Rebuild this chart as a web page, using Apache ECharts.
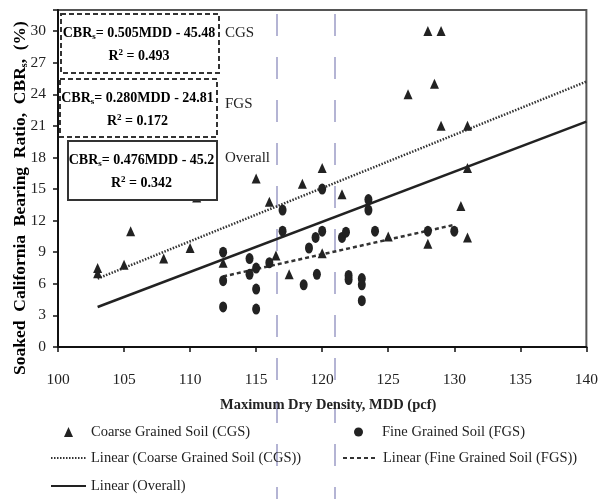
<!DOCTYPE html>
<html>
<head>
<meta charset="utf-8">
<script src="https://cdn.jsdelivr.net/npm/echarts@6/dist/echarts.min.js"></script>
<style>
  html, body { margin: 0; padding: 0; background: #fff; }
  #main { width: 601px; height: 499px; }
</style>
</head>
<body>
<div id="main"></div>
<script>
// 粗粒土 CGS (三角)
var cgsMDD = [103, 103, 105, 105.5, 108, 110, 110.5, 112.5, 115, 116, 116.5, 117.5, 118.5, 120, 120, 121.5, 125, 126.5, 128, 128, 128.5, 129, 129, 130.5, 131, 131, 131];
var cgsCBR = [7.5, 7.0, 7.8, 11, 8.4, 9.4, 14.2, 8.0, 16, 13.8, 8.7, 6.9, 15.5, 17, 8.9, 14.5, 10.5, 24, 30, 9.8, 25, 30, 21, 13.4, 21, 17, 10.4];
// 细粒土 FGS (圆点)
var fgsMDD = [112.5, 112.5, 112.5, 114.5, 114.5, 115, 115, 115, 116, 117, 117, 118.6, 119, 119.5, 119.6, 120, 120, 121.5, 121.8, 122, 122, 123, 123, 123, 123.5, 123.5, 124, 128, 130];
var fgsCBR = [9.0, 6.3, 3.8, 8.4, 6.9, 7.5, 5.5, 3.6, 8.0, 13.0, 11.0, 5.9, 9.4, 10.4, 6.9, 15.0, 11.0, 10.4, 10.9, 6.8, 6.4, 6.5, 5.9, 4.4, 14.0, 13.0, 11.0, 11.0, 11.0];
// 趋势线端点
var cgsTrendMDD = [103, 140];
var cgsTrendCBR = [6.5, 25.2];
var fgsTrendMDD = [112.5, 130];
var fgsTrendCBR = [6.7, 11.6];
var allTrendMDD = [103, 140];
var allTrendCBR = [3.8, 21.4];

var names = [
  'Coarse Grained Soil (CGS)',
  'Fine Grained Soil (FGS)',
  'Linear (Coarse Grained Soil (CGS))',
  'Linear (Fine Grained Soil (FGS))',
  'Linear (Overall)'
];
var eqs = [
  { lab: 'CGS', a: '= 0.505MDD - 45.48', r: ' = 0.493' },
  { lab: 'FGS', a: '= 0.280MDD - 24.81', r: ' = 0.172' },
  { lab: 'Overall', a: '= 0.476MDD - 45.2', r: ' = 0.342' }
];

function pairs(xs, ys) {
  return xs.map(function (x, i) { return [x, ys[i]]; });
}

var serif = 'Liberation Serif';
var ink = '#222';

(function () {
  var myChart = echarts.init(document.getElementById('main'));

  var rich = {
    b: { fontFamily: serif, fontWeight: 'bold', fontSize: 14, color: ink },
    s: { fontFamily: serif, fontWeight: 'bold', fontSize: 9, color: ink, padding: [8, 0, 0, 0] },
    p: { fontFamily: serif, fontWeight: 'bold', fontSize: 9, color: ink, padding: [0, 0, 7, 0] }
  };

  // 公式框
  var boxes = [
    { x: 60, y: 13, w: 158, h: 59, dash: [5, 3] },
    { x: 59, y: 78, w: 157, h: 58, dash: [5, 3] },
    { x: 67, y: 140, w: 149, h: 59, dash: null }
  ];
  var graphics = [];
  boxes.forEach(function (b, i) {
    graphics.push({
      type: 'rect', left: b.x, top: b.y, z: 10,
      shape: { width: b.w, height: b.h },
      style: { fill: '#fff', stroke: '#333', lineWidth: 2, lineDash: b.dash }
    });
    graphics.push({
      type: 'text', x: b.x + b.w / 2, y: b.y + 20, z: 11,
      style: { text: '{b|CBR}{s|s}{b|' + eqs[i].a + '}', rich: rich, align: 'center', verticalAlign: 'middle' }
    });
    graphics.push({
      type: 'text', x: b.x + b.w / 2, y: b.y + 43, z: 11,
      style: { text: '{b|R}{p|2}{b|' + eqs[i].r + '}', rich: rich, align: 'center', verticalAlign: 'middle' }
    });
    graphics.push({
      type: 'text', x: 225, y: [33, 104, 158][i], z: 11,
      style: { text: eqs[i].lab, font: '15px "Liberation Serif"', fill: ink, align: 'left', verticalAlign: 'middle' }
    });
  });

  // 页面上的虚线辅助线
  [277, 335].forEach(function (x) {
    graphics.push({
      type: 'line', z: 0,
      shape: { x1: x, y1: -29, x2: x, y2: 520 },
      style: { stroke: '#9c9cc6', lineWidth: 1.5, lineDash: [22, 21] }
    });
  });

  // y 轴标题
  graphics.push({
    type: 'text', x: 20, y: 198, rotation: Math.PI / 2, z: 5,
    style: {
      text: '{t|Soaked  California  Bearing  Ratio,  CBR}{s|s}{t|,  (%)}',
      rich: {
        t: { fontFamily: serif, fontWeight: 'bold', fontSize: 17.5, color: ink },
        s: { fontFamily: serif, fontWeight: 'bold', fontSize: 10, color: ink, padding: [8, 0, 0, 0] }
      },
      align: 'center', verticalAlign: 'middle'
    }
  });

  var legendText = { fontFamily: serif, fontSize: 14.5, color: ink, lineHeight: 18 };
  var hideDot = { opacity: 0 };

  var option = {
    animation: false,
    backgroundColor: '#fff',
    grid: {
      left: 58, right: 11, top: 10, bottom: 152,
      show: true, borderColor: '#555', borderWidth: 2
    },
    xAxis: {
      type: 'value',
      min: 100, max: 140, interval: 5,
      name: 'Maximum Dry Density, MDD (pcf)',
      nameLocation: 'middle',
      nameGap: 51,
      nameTextStyle: { fontFamily: serif, fontWeight: 'bold', fontSize: 14.5, color: ink, padding: [0, 0, 0, 12] },
      axisLine: { lineStyle: { color: '#111', width: 2 } },
      axisTick: { show: true, inside: false, length: 5, lineStyle: { color: '#111', width: 1.5 } },
      axisLabel: { fontFamily: serif, fontSize: 15.5, color: ink, margin: 25 },
      splitLine: { show: false }
    },
    yAxis: {
      type: 'value',
      min: 0, max: 32, interval: 3,
      axisLine: { show: true, lineStyle: { color: '#111', width: 2 } },
      axisTick: { show: true, inside: false, length: 5, lineStyle: { color: '#111', width: 1.5 } },
      axisLabel: {
        fontFamily: serif, fontSize: 15.5, color: ink, margin: 12,
        formatter: function (v) { return v % 3 === 0 ? String(v) : ''; }
      },
      splitLine: { show: false }
    },
    legend: [
      {
        left: 64, top: 423, padding: 0, itemWidth: 9, itemHeight: 10,
        data: [names[0]],
        textStyle: Object.assign({ padding: [0, 0, 0, 13] }, legendText)
      },
      {
        left: 354, top: 423, padding: 0, itemWidth: 9, itemHeight: 10,
        data: [names[1]],
        textStyle: Object.assign({ padding: [0, 0, 0, 14] }, legendText)
      },
      {
        orient: 'vertical', left: 50, top: 449, padding: 0,
        itemWidth: 35, itemHeight: 10, itemGap: 10,
        data: [{ name: names[2], itemStyle: hideDot }, { name: names[4], itemStyle: hideDot }],
        textStyle: legendText
      },
      {
        orient: 'vertical', left: 342, top: 449, padding: 0,
        itemWidth: 35, itemHeight: 10, itemGap: 10,
        data: [{ name: names[3], itemStyle: hideDot }],
        textStyle: legendText
      }
    ],
    graphic: graphics,
    series: [
      {
        name: names[2], type: 'line', symbol: 'none', z: 3,
        data: pairs(cgsTrendMDD, cgsTrendCBR),
        itemStyle: { color: '#333' },
        lineStyle: { color: '#333', width: 2.5, type: [1.5, 1.5] }
      },
      {
        name: names[3], type: 'line', symbol: 'none', z: 3,
        data: pairs(fgsTrendMDD, fgsTrendCBR),
        itemStyle: { color: '#333' },
        lineStyle: { color: '#333', width: 2.5, type: [4, 3] }
      },
      {
        name: names[4], type: 'line', symbol: 'none', z: 3,
        data: pairs(allTrendMDD, allTrendCBR),
        itemStyle: { color: '#222' },
        lineStyle: { color: '#222', width: 2.5, type: 'solid' }
      },
      {
        name: names[0], type: 'scatter', symbol: 'triangle', symbolSize: [9, 10], z: 4,
        data: pairs(cgsMDD, cgsCBR),
        itemStyle: { color: ink, opacity: 1 }
      },
      {
        name: names[1], type: 'scatter', symbol: 'circle', symbolSize: [8, 11], z: 4,
        data: pairs(fgsMDD, fgsCBR),
        itemStyle: { color: ink, opacity: 1 }
      }
    ]
  };

  myChart.setOption(option);
  window.addEventListener('resize', function () {
    myChart.resize();
  });
})();
</script>
</body>
</html>
